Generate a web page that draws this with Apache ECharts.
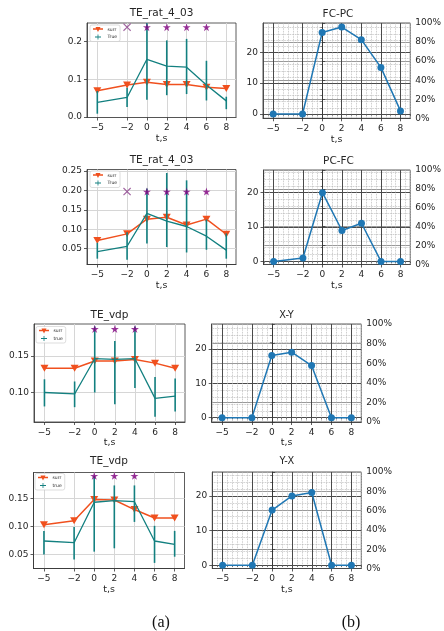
<!DOCTYPE html>
<html>
<head>
<meta charset="utf-8">
<script src="https://cdn.jsdelivr.net/npm/echarts@6/dist/echarts.min.js"></script>
<style>
  html, body { margin: 0; padding: 0; background: #fff; }
  #chart { width: 444px; height: 631px; }
</style>
</head>
<body>
<div id="chart"></div>
<script>
// shared time axis
const time = [-5, -2, 0, 2, 4, 6, 8]
const timeTicks = [-5, -2, 0, 2, 4, 6, 8]

// left column: transfer entropy panels
const teTitles = ['TE_rat_4_03', 'TE_rat_4_03', 'TE_vdp', 'TE_vdp']
const trueNames = ['True', 'True', 'true', 'true']

const surr1 = [0.070, 0.085, 0.092, 0.086, 0.086, 0.079, 0.076]
const true1 = [0.039, 0.052, 0.153, 0.135, 0.132, 0.085, 0.043]
const true1Low = [0.009, 0.027, 0.046, 0.058, 0.061, 0.044, 0.021]
const true1High = [0.069, 0.078, 0.260, 0.203, 0.207, 0.149, 0.054]

const surr2 = [0.071, 0.088, 0.126, 0.131, 0.111, 0.126, 0.087]
const true2 = [0.042, 0.056, 0.141, 0.121, 0.107, 0.082, 0.046]
const true2Low = [0.024, 0.021, 0.063, 0.054, 0.040, 0.047, 0.024]
const true2High = [0.065, 0.092, 0.205, 0.245, 0.226, 0.125, 0.089]

const surr3 = [0.133, 0.133, 0.143, 0.143, 0.145, 0.140, 0.133]
const true3 = [0.100, 0.098, 0.146, 0.145, 0.146, 0.092, 0.095]
const true3Low = [0.081, 0.080, 0.100, 0.084, 0.106, 0.067, 0.074]
const true3High = [0.118, 0.115, 0.190, 0.170, 0.190, 0.121, 0.119]

const surr4 = [0.103, 0.110, 0.148, 0.147, 0.130, 0.115, 0.115]
const true4 = [0.074, 0.071, 0.143, 0.146, 0.144, 0.074, 0.068]
const true4Low = [0.050, 0.041, 0.055, 0.061, 0.108, 0.035, 0.046]
const true4High = [0.092, 0.099, 0.190, 0.173, 0.173, 0.101, 0.092]

const starX = [[0, 2, 4, 6], [0, 2, 4, 6], [0, 2, 4], [0, 2, 4]]
const crossX = [[-2], [-2], [], []]
const markLevel = [0.238, 0.197, 0.1865, 0.190]

const teTicks = [
  [0.0, 0.1, 0.2],
  [0.05, 0.10, 0.15, 0.20, 0.25],
  [0.10, 0.15],
  [0.05, 0.10, 0.15]
]
const teDigits = [1, 2, 2, 2]
const teRange = [[-0.001, 0.249], [0.009, 0.254], [0.0598, 0.1933], [0.025, 0.196]]

// right column: counts
const pairTitles = ['FC-PC', 'PC-FC', 'X-Y', 'Y-X']
const fcpc = [0, 0, 26.4, 28.2, 24.1, 15.1, 1.0]
const pcfc = [0, 1, 20, 9, 11.1, 0, 0]
const xy = [0, 0, 18.1, 19.1, 15.2, 0, 0]
const yx = [0, 0, 15.9, 20, 21, 0, 0]
const countTicks = [0, 10, 20]
const pctTicks = [0, 20, 40, 60, 80, 100]
const countRange = [[-1.4, 29.5], [-0.9, 26.6], [-1.25, 27.3], [-0.95, 26.9]]

const surrData = [surr1, surr2, surr3, surr4]
const trueData = [true1, true2, true3, true4]
const lowData = [true1Low, true2Low, true3Low, true4Low]
const highData = [true1High, true2High, true3High, true4High]
const countData = [fcpc, pcfc, xy, yx]

// layout
const leftBoxes = [
  { left: 87, top: 23, width: 149, height: 94.5 },
  { left: 87, top: 169.5, width: 149, height: 95 },
  { left: 34, top: 324, width: 151, height: 98 },
  { left: 33.5, top: 472.5, width: 151, height: 96 }
]
const rightBoxes = [
  { left: 263, top: 23, width: 150, height: 95.3 },
  { left: 263.5, top: 170, width: 150, height: 94.5 },
  { left: 211.7, top: 324, width: 149.6, height: 98 },
  { left: 212.3, top: 472, width: 149, height: 96.5 }
]
const titleTops = [8, 155, 310, 456]
const titleSizes = [10.5, 10.5, 10.5, 10.5]
const pairTitleSizes = [10.5, 10.5, 9.8, 9.8]
const legendPos = [[90, 25], [90, 171], [36, 326.5], [35, 473.5]]
const xMin = -6.04
const xMax = 8.98

const ink = '#262626'
const frame = '#333'
const orange = '#f0501e'
const teal = '#138080'
const purple = '#800080'
const blue = '#1f77b4'
const starPath = 'path://M50,0 L61.2,34.5 L97.6,34.5 L68.2,55.9 L79.4,90.5 L50,69.1 L20.6,90.5 L31.8,55.9 L2.4,34.5 L38.8,34.5 Z'
const crossPath = 'path://M0,1 L1,0 L5,4 L9,0 L10,1 L6,5 L10,9 L9,10 L5,6 L1,10 L0,9 L4,5 Z'
const plusPath = 'path://M0,4.2h12v1.6H0z M5.2,0h1.6v10H5.2z'
const surrIcon = 'path://M0,1.6h12v1.6H0z M3,0h6L6,6z'

const minus = v => (v < 0 ? '\u2212' + Math.abs(v) : String(v))

const minorX = []
for (let v = -6; v <= 9; v += 0.5) {
  if (timeTicks.indexOf(v) < 0) minorX.push(v)
}
const minorY = []
for (let v = 2; v <= 28; v += 2) {
  if (countTicks.indexOf(v) < 0) minorY.push(v)
}

const grid = []
const xAxis = []
const yAxis = []
const series = []
const title = []
const legend = []

function renderErr(params, api) {
  const cs = params.coordSys
  const a = api.coord([api.value(0), api.value(1)])
  const b = api.coord([api.value(0), api.value(2)])
  const clampY = y => Math.min(Math.max(y, cs.y), cs.y + cs.height)
  return {
    type: 'line',
    shape: { x1: a[0], y1: clampY(a[1]), x2: b[0], y2: clampY(b[1]) },
    style: { stroke: teal, lineWidth: 1.6 }
  }
}

function timeAxis(gi, splitColor) {
  return {
    gridIndex: gi,
    type: 'value',
    position: 'bottom',
    min: xMin,
    max: xMax,
    name: 't,s',
    nameLocation: 'middle',
    nameGap: 16,
    nameTextStyle: { fontSize: 9.5, color: ink },
    axisLine: { onZero: false, lineStyle: { color: frame, width: 0.8 } },
    axisTick: { customValues: timeTicks, length: 3, lineStyle: { color: frame, width: 0.8 } },
    axisLabel: { customValues: timeTicks, fontSize: 9, color: ink, margin: 6, formatter: minus },
    splitLine: { show: true, lineStyle: { color: splitColor, width: 1 } }
  }
}

// TE panels
for (let i = 0; i < 4; i++) {
  const box = leftBoxes[i]
  const gi = grid.push(Object.assign({ show: true, borderColor: frame, borderWidth: 0.8 }, box)) - 1
  const xi = xAxis.push(timeAxis(gi, '#d6d6d6')) - 1
  const yi = yAxis.push({
    gridIndex: gi,
    type: 'value',
    min: teRange[i][0],
    max: teRange[i][1],
    axisLine: { show: true, onZero: false, lineStyle: { color: frame, width: 0.8 } },
    axisTick: { show: true, customValues: teTicks[i], length: 3, lineStyle: { color: frame, width: 0.8 } },
    axisLabel: {
      customValues: teTicks[i],
      fontSize: 9,
      color: ink,
      margin: 5,
      formatter: v => v.toFixed(teDigits[i])
    },
    splitLine: { show: true, lineStyle: { color: '#d6d6d6', width: 1 } }
  }) - 1

  series.push({
    type: 'line',
    name: 'surr',
    xAxisIndex: xi,
    yAxisIndex: yi,
    data: time.map((t, k) => [t, surrData[i][k]]),
    symbol: 'triangle',
    symbolRotate: 180,
    symbolSize: [8, 7],
    lineStyle: { color: orange, width: 1.5 },
    itemStyle: { color: orange },
    z: 2
  })
  series.push({
    type: 'line',
    name: trueNames[i],
    xAxisIndex: xi,
    yAxisIndex: yi,
    data: time.map((t, k) => [t, trueData[i][k]]),
    symbol: 'none',
    lineStyle: { color: teal, width: 1.3 },
    itemStyle: { color: teal },
    z: 3
  })
  series.push({
    type: 'custom',
    name: 'err' + i,
    xAxisIndex: xi,
    yAxisIndex: yi,
    renderItem: renderErr,
    encode: { x: 0, y: [1, 2] },
    data: time.map((t, k) => [t, lowData[i][k], highData[i][k]]),
    z: 3
  })
  series.push({
    type: 'scatter',
    name: 'sig' + i,
    xAxisIndex: xi,
    yAxisIndex: yi,
    data: starX[i].map(x => [x, markLevel[i]]),
    symbol: starPath,
    symbolSize: 8,
    itemStyle: { color: purple },
    z: 4
  })
  if (crossX[i].length) {
    series.push({
      type: 'scatter',
      name: 'cross' + i,
      xAxisIndex: xi,
      yAxisIndex: yi,
      data: crossX[i].map(x => [x, markLevel[i]]),
      symbol: crossPath,
      symbolSize: 8,
      itemStyle: { color: '#8a3d8a' },
      z: 4
    })
  }

  title.push({
    text: teTitles[i],
    left: box.left + box.width / 2,
    top: titleTops[i],
    textAlign: 'center',
    padding: 0,
    textStyle: { fontSize: titleSizes[i], fontWeight: 'normal', color: ink }
  })
  legend.push({
    data: [
      { name: 'surr', icon: surrIcon, itemStyle: { color: orange } },
      { name: trueNames[i], icon: plusPath, itemStyle: { color: teal } }
    ],
    left: legendPos[i][0],
    top: legendPos[i][1],
    orient: 'vertical',
    itemWidth: 11,
    itemHeight: 5,
    itemGap: 2.5,
    padding: [2, 3],
    selectedMode: false,
    textStyle: { fontSize: 4.5, color: ink, padding: [0, 0, 0, -1] },
    borderColor: '#c8c8c8',
    borderWidth: 0.6,
    borderRadius: 2,
    backgroundColor: 'rgba(255,255,255,0.85)'
  })
}

// count panels
for (let i = 0; i < 4; i++) {
  const box = rightBoxes[i]
  const gi = grid.push(Object.assign({ show: true, borderColor: frame, borderWidth: 0.8 }, box)) - 1
  xAxis.push({
    gridIndex: gi,
    type: 'value',
    position: 'bottom',
    min: xMin,
    max: xMax + 0.02,
    axisLine: { show: false },
    axisTick: { show: true, customValues: minorX, length: 1.8, lineStyle: { color: frame, width: 0.6 } },
    axisLabel: { show: false },
    splitLine: { show: true, lineStyle: { color: '#b5b5b5', type: 'dotted', width: 0.8 } }
  })
  const xi = xAxis.push(Object.assign(timeAxis(gi, '#4a4a4a'), { max: xMax + 0.02 })) - 1
  yAxis.push({
    gridIndex: gi,
    type: 'value',
    position: 'left',
    min: countRange[i][0],
    max: countRange[i][1],
    axisLine: { show: false },
    axisTick: { show: true, customValues: minorY, length: 1.8, lineStyle: { color: frame, width: 0.6 } },
    axisLabel: { show: false },
    splitLine: { show: true, lineStyle: { color: '#b5b5b5', type: 'dotted', width: 0.8 } }
  })
  yAxis.push({
    gridIndex: gi,
    type: 'value',
    position: 'right',
    min: 0,
    max: 100,
    axisLine: { show: true, lineStyle: { color: frame, width: 0.8 } },
    axisTick: { show: true, customValues: pctTicks, length: 3, lineStyle: { color: frame, width: 0.8 } },
    axisLabel: { customValues: pctTicks, fontSize: 9, color: ink, margin: 5, formatter: v => v + '%' },
    splitLine: { show: true, lineStyle: { color: '#9a9a9a', width: 1.2 } }
  })
  const yi = yAxis.push({
    gridIndex: gi,
    type: 'value',
    position: 'left',
    min: countRange[i][0],
    max: countRange[i][1],
    axisLine: { show: true, onZero: false, lineStyle: { color: frame, width: 0.8 } },
    axisTick: { show: true, customValues: countTicks, length: 3, lineStyle: { color: frame, width: 0.8 } },
    axisLabel: { customValues: countTicks, fontSize: 9, color: ink, margin: 5 },
    splitLine: { show: true, lineStyle: { color: '#4a4a4a', width: 1 } }
  }) - 1

  series.push({
    type: 'line',
    name: pairTitles[i],
    xAxisIndex: xi,
    yAxisIndex: yi,
    data: time.map((t, k) => [t, countData[i][k]]),
    symbol: 'circle',
    symbolSize: 7,
    lineStyle: { color: blue, width: 1.5 },
    itemStyle: { color: blue },
    z: 3
  })
  title.push({
    text: pairTitles[i],
    left: box.left + box.width / 2,
    top: titleTops[i] + 0.5,
    textAlign: 'center',
    padding: 0,
    textStyle: { fontSize: pairTitleSizes[i], fontWeight: 'normal', color: ink }
  })
}

const chart = echarts.init(document.getElementById('chart'))
chart.setOption({
  animation: false,
  backgroundColor: '#fff',
  textStyle: { fontFamily: 'DejaVu Sans' },
  title,
  legend,
  grid,
  xAxis,
  yAxis,
  series,
  graphic: [
    {
      type: 'text',
      x: 161,
      y: 623,
      style: { text: '(a)', fontSize: 16, fontFamily: 'Liberation Serif', fill: '#111', textAlign: 'center', textVerticalAlign: 'middle' }
    },
    {
      type: 'text',
      x: 351,
      y: 623,
      style: { text: '(b)', fontSize: 16, fontFamily: 'Liberation Serif', fill: '#111', textAlign: 'center', textVerticalAlign: 'middle' }
    }
  ]
})
</script>
</body>
</html>
